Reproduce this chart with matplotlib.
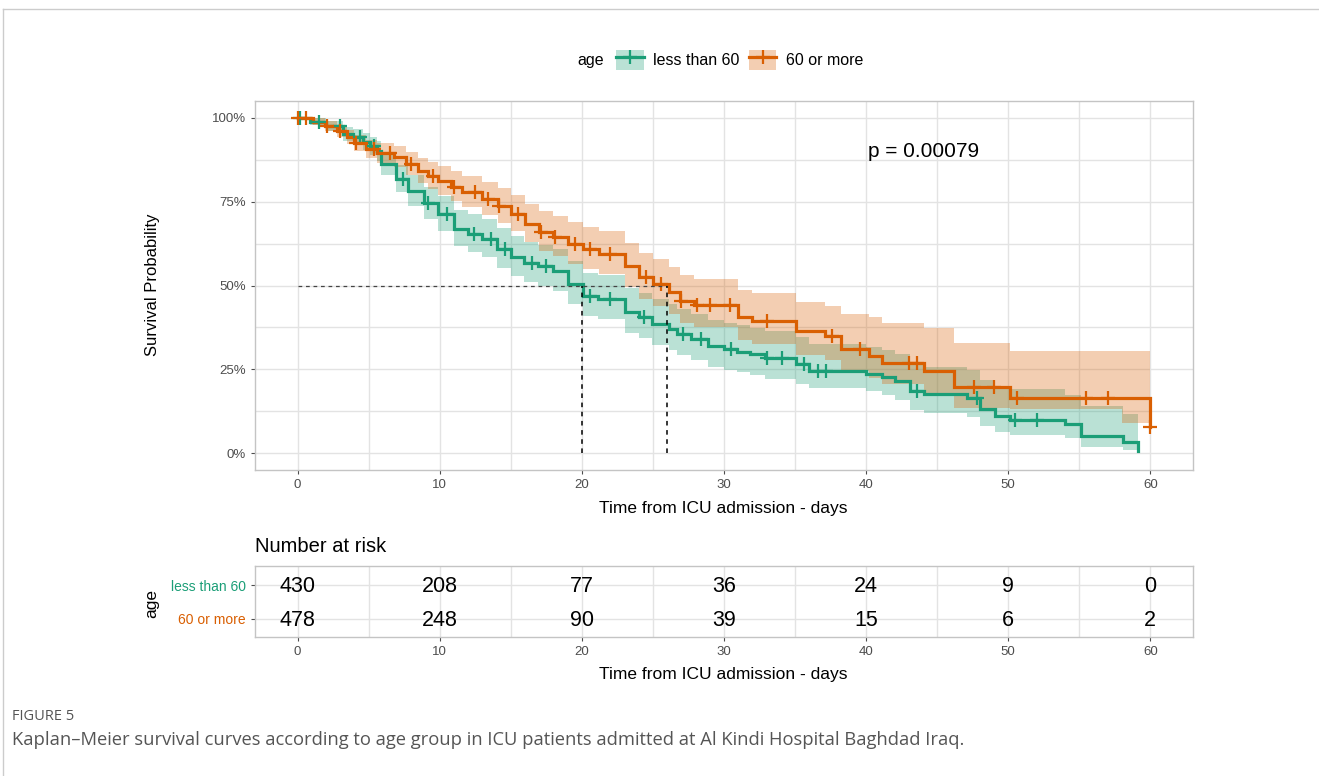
import numpy as np
import matplotlib
matplotlib.use('Agg')
import matplotlib.pyplot as plt
from matplotlib.lines import Line2D
from matplotlib.patches import Patch

plt.rcParams['font.family'] = ['Liberation Sans', 'DejaVu Sans']

# --- data ---
groups = ['less than 60', '60 or more']
colors = ['#1b9e77', '#d95f02']

young_t = [0, 0.9, 2.0, 3.2, 3.9, 4.6, 5.1, 5.6, 5.9, 6.9, 7.8, 8.9, 9.9, 11.0, 12.0, 13.0,
           14.0, 15.0, 15.9, 16.9, 18.0, 19.0, 20.1, 21.1, 23.0, 24.0, 24.9, 26.1, 26.7, 27.7,
           28.9, 30.0, 30.9, 31.8, 32.9, 35.1, 36.0, 40.0, 41.1, 42.0, 43.1, 44.1, 47.1, 48.0,
           49.1, 50.1, 54.0, 55.1, 58.1, 59.1]
young_s = [1.0, 0.988, 0.975, 0.952, 0.943, 0.928, 0.916, 0.900, 0.863, 0.818, 0.782, 0.746,
           0.713, 0.669, 0.654, 0.639, 0.609, 0.585, 0.567, 0.558, 0.543, 0.504, 0.469, 0.460,
           0.420, 0.405, 0.385, 0.370, 0.355, 0.340, 0.320, 0.310, 0.303, 0.296, 0.284, 0.266,
           0.245, 0.236, 0.227, 0.215, 0.185, 0.176, 0.164, 0.131, 0.110, 0.100, 0.087, 0.051,
           0.033, 0.006]
young_lo = [1.0, 0.977, 0.960, 0.932, 0.920, 0.903, 0.888, 0.870, 0.828, 0.778, 0.738, 0.699,
            0.663, 0.617, 0.600, 0.585, 0.553, 0.528, 0.509, 0.500, 0.484, 0.444, 0.408, 0.399,
            0.358, 0.343, 0.323, 0.308, 0.293, 0.278, 0.258, 0.248, 0.241, 0.234, 0.222, 0.205,
            0.195, 0.185, 0.175, 0.160, 0.130, 0.120, 0.108, 0.080, 0.062, 0.055, 0.046, 0.018,
            0.010, 0.000]
young_hi = [1.0, 0.999, 0.990, 0.972, 0.966, 0.954, 0.944, 0.931, 0.899, 0.860, 0.828, 0.795,
            0.766, 0.725, 0.712, 0.698, 0.671, 0.648, 0.631, 0.622, 0.609, 0.572, 0.538, 0.530,
            0.492, 0.478, 0.459, 0.444, 0.430, 0.415, 0.396, 0.387, 0.381, 0.374, 0.363, 0.345,
            0.325, 0.316, 0.308, 0.296, 0.266, 0.258, 0.247, 0.219, 0.200, 0.190, 0.175, 0.140,
            0.116, 0.116]
young_cens = [0.2, 1.5, 3.0, 4.4, 5.4, 7.4, 9.2, 10.5, 12.4, 13.6, 14.6, 16.5, 17.5, 20.6,
              22.0, 24.4, 27.1, 28.4, 30.5, 33.0, 34.1, 35.6, 36.6, 37.2, 43.6, 47.8, 50.5, 52.0]

old_t = [0, 1.1, 1.9, 2.8, 3.5, 4.0, 4.8, 5.6, 6.8, 7.6, 8.5, 9.2, 9.9, 10.8, 11.6, 13.0, 14.1,
         15.0, 16.0, 17.0, 18.0, 19.0, 20.1, 21.2, 23.0, 24.0, 25.0, 26.1, 26.9, 27.9, 31.0,
         32.0, 35.1, 37.1, 38.2, 40.2, 41.1, 44.1, 46.2, 50.1, 58.0, 60.0]
old_s = [1.0, 0.988, 0.976, 0.961, 0.943, 0.925, 0.907, 0.895, 0.884, 0.863, 0.842, 0.827,
         0.812, 0.794, 0.779, 0.758, 0.737, 0.713, 0.684, 0.660, 0.645, 0.624, 0.609, 0.594,
         0.558, 0.525, 0.505, 0.480, 0.454, 0.442, 0.406, 0.394, 0.364, 0.350, 0.310, 0.290,
         0.270, 0.245, 0.197, 0.164, 0.164, 0.078]
old_lo = [1.0, 0.978, 0.962, 0.943, 0.922, 0.901, 0.880, 0.866, 0.853, 0.829, 0.805, 0.788,
          0.771, 0.751, 0.734, 0.710, 0.687, 0.661, 0.630, 0.604, 0.588, 0.565, 0.549, 0.533,
          0.495, 0.461, 0.440, 0.415, 0.388, 0.375, 0.338, 0.325, 0.293, 0.278, 0.245, 0.225,
          0.205, 0.180, 0.135, 0.131, 0.090, 0.090]
old_hi = [1.0, 0.998, 0.990, 0.979, 0.964, 0.950, 0.935, 0.925, 0.916, 0.898, 0.880, 0.868,
          0.855, 0.840, 0.827, 0.808, 0.790, 0.769, 0.743, 0.721, 0.707, 0.688, 0.675, 0.661,
          0.628, 0.597, 0.579, 0.555, 0.531, 0.520, 0.488, 0.477, 0.452, 0.440, 0.415, 0.405,
          0.388, 0.373, 0.328, 0.304, 0.304, 0.304]
old_cens = [0.0, 0.6, 2.1, 3.0, 4.1, 5.4, 6.5, 8.0, 9.5, 11.0, 12.5, 13.4, 14.2, 15.5, 17.1,
            18.1, 19.5, 20.6, 22.0, 24.5, 25.6, 27.0, 28.1, 29.0, 30.4, 33.0, 37.6, 39.6,
            43.0, 43.6, 47.6, 49.0, 50.6, 55.5, 57.0, 60.0]

median_times = [20, 26]
risk_times = [0, 10, 20, 30, 40, 50, 60]
risk_young = [430, 208, 77, 36, 24, 9, 0]
risk_old = [478, 248, 90, 39, 15, 6, 2]

W, H = 1319, 776
fig = plt.figure(figsize=(W / 100, H / 100), dpi=100)

def fx(px):
    return px / W

def fy(py):
    return 1 - py / H

grid_c = '#e3e3e3'
tick_c = '#4d4d4d'
frame_c = '#c4c4c4'

ax = fig.add_axes([fx(255), fy(470), fx(1193) - fx(255), fy(101) - fy(470)])

series = [
    (young_t, young_s, young_lo, young_hi, young_cens, colors[0]),
    (old_t, old_s, old_lo, old_hi, old_cens, colors[1]),
]
for t, s, lo, hi, cens, c in series:
    ax.fill_between(t, lo, hi, step='post', color=c, alpha=0.3, lw=0, zorder=2)
for t, s, lo, hi, cens, c in series:
    ax.step(t, s, where='post', color=c, lw=2.3, zorder=3, solid_joinstyle='miter')
    t = np.asarray(t)
    idx = np.searchsorted(t, cens, side='right') - 1
    ax.plot(cens, np.asarray(s)[idx], ls='none', marker='+', color=c, ms=10, mew=1.6, zorder=4)

# median lines
ax.plot([0, max(median_times)], [0.5, 0.5], ls=(0, (3, 3)), color='#444444', lw=0.9, zorder=5)
for m in median_times:
    ax.plot([m, m], [0, 0.5], ls=(0, (3, 3)), color='black', lw=1.1, zorder=5)

ax.set_xlim(-3, 63)
ax.set_ylim(-0.05, 1.05)
ax.set_xticks(risk_times)
ax.set_xticks([5, 15, 25, 35, 45, 55], minor=True)
ax.set_yticks([0, 0.25, 0.5, 0.75, 1.0])
ax.set_yticklabels(['0%', '25%', '50%', '75%', '100%'])
ax.set_yticks([0.125, 0.375, 0.625, 0.875], minor=True)
ax.grid(which='both', color=grid_c, lw=1.0, zorder=0)
ax.set_axisbelow(True)
ax.tick_params(which='major', colors=tick_c, labelsize=9.5, length=3, width=0.8)
ax.tick_params(which='minor', length=0)
for sp in ax.spines.values():
    sp.set_color(frame_c)
    sp.set_linewidth(1.0)
ax.text(40.1, 0.9, 'p = 0.00079', ha='left', va='center', fontsize=15)

fig.text(fx(152), fy(285), 'Survival Probability', rotation=90, ha='center', va='center', fontsize=12)
fig.text(fx(723), fy(509), 'Time from ICU admission - days', ha='center', va='center', fontsize=12.5)

# legend
fig.text(fx(591), fy(60), 'age', ha='center', va='center', fontsize=11.5)
handles = []
for c in colors:
    handles.append((Patch(facecolor=c, alpha=0.3, edgecolor='none'),
                    Line2D([], [], color=c, lw=2.3, marker='+', ms=10, mew=1.6)))
fig.legend(handles, groups, loc='center left', bbox_to_anchor=(fx(610), fy(60)), ncol=2,
           frameon=False, fontsize=11.5, handlelength=1.7, handleheight=1.6,
           columnspacing=0.6, handletextpad=0.6, borderaxespad=0)

# risk table
ax2 = fig.add_axes([fx(255), fy(637), fx(1193) - fx(255), fy(566) - fy(637)])
ax2.set_xlim(-3, 63)
ax2.set_ylim(0.47, 2.56)
for n1, n2, t in zip(risk_young, risk_old, risk_times):
    ax2.text(t, 1.95, str(n1), ha='center', va='center', fontsize=15.5)
    ax2.text(t, 0.96, str(n2), ha='center', va='center', fontsize=15.5)
ax2.set_xticks(risk_times)
ax2.set_xticks([5, 15, 25, 35, 45, 55], minor=True)
ax2.set_yticks([2, 1])
ax2.set_yticklabels(groups)
ax2.grid(which='both', color=grid_c, lw=1.0, zorder=0)
ax2.tick_params(which='major', colors=tick_c, labelsize=9.5, length=3, width=0.8)
ax2.tick_params(axis='y', labelsize=10)
for lab, c in zip(ax2.get_yticklabels(), colors):
    lab.set_color(c)
ax2.tick_params(which='minor', length=0)
for sp in ax2.spines.values():
    sp.set_color(frame_c)
    sp.set_linewidth(1.0)

fig.text(fx(255), fy(546), 'Number at risk', ha='left', va='center', fontsize=14.5)
fig.text(fx(152), fy(603), 'age', rotation=90, ha='center', va='center', fontsize=12.5)
fig.text(fx(723), fy(675), 'Time from ICU admission - days', ha='center', va='center', fontsize=12.5)

# caption and outer frame
fig.text(fx(12), fy(717), 'FIGURE 5', ha='left', va='center', fontsize=10.5,
         color='#555555', family=['Open Sans', 'DejaVu Sans'])
fig.text(fx(12), fy(740),
         'Kaplan\u2013Meier survival curves according to age group in ICU patients admitted at Al Kindi Hospital Baghdad Iraq.',
         ha='left', va='center', fontsize=13.2, color='#555555', family=['Open Sans', 'DejaVu Sans'])
fig.add_artist(Line2D([fx(3), fx(3)], [0, fy(9)], transform=fig.transFigure, color='#cccccc', lw=1))
fig.add_artist(Line2D([fx(3), 1], [fy(9), fy(9)], transform=fig.transFigure, color='#cccccc', lw=1))

fig.savefig('out.png', dpi=100)
